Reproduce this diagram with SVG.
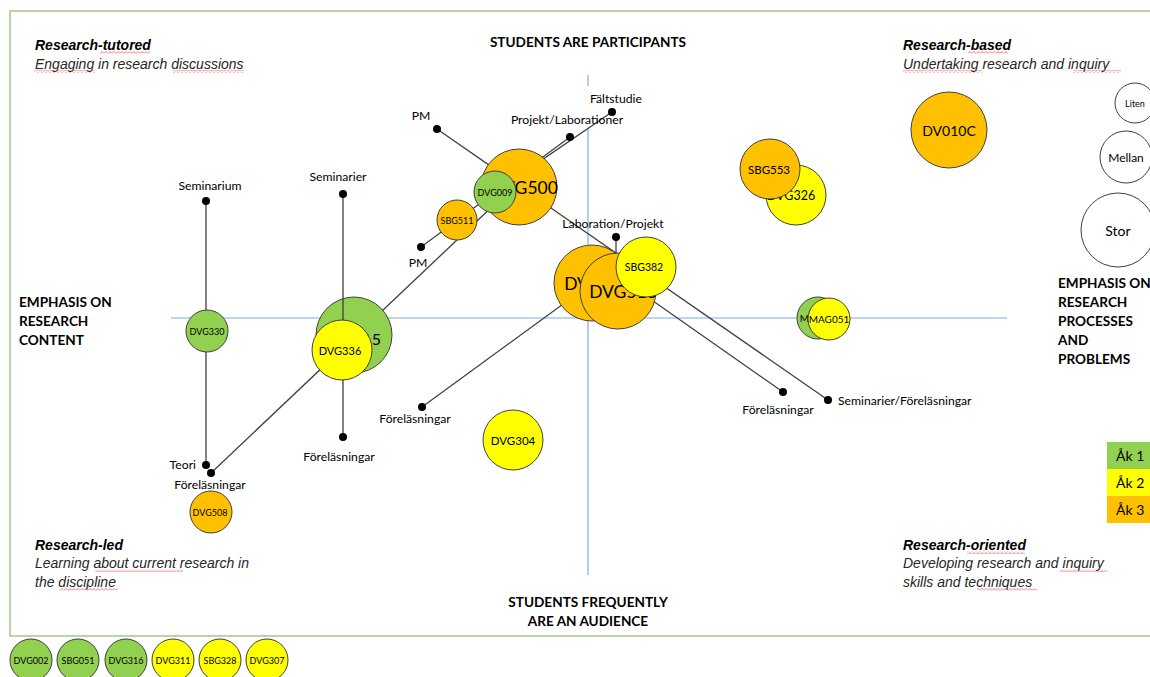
<svg xmlns="http://www.w3.org/2000/svg" width="1150" height="677" viewBox="0 0 1150 677">
<defs>
<style>
text{font-family:Lato,"Liberation Sans",sans-serif;fill:#000}
.ax{stroke:#7FAEDC;stroke-width:1.2;fill:none}
.ln{stroke:#404040;stroke-width:1.3;fill:none}
.dot{fill:#000}
.g{fill:#92D050;stroke:#3F3F3F;stroke-width:1}
.y{fill:#FFFF00;stroke:#3F3F3F;stroke-width:1}
.o{fill:#FFC000;stroke:#3F3F3F;stroke-width:1}
.w{fill:#FFFFFF;stroke:#3F3F3F;stroke-width:1}
.hd{font-weight:bold;font-size:13.6px}
.ct{font-family:"Liberation Sans",Arial,sans-serif;font-style:italic;font-size:14px;fill:#262626}
.cb{font-family:"Liberation Sans",Arial,sans-serif;font-style:italic;font-weight:bold;font-size:14px}
.lb{font-size:12.2px}
.c{text-anchor:middle;dominant-baseline:central}
.sq{fill:url(#squig)}
</style>
<pattern id="squig" x="0" y="0" width="4" height="3" patternUnits="userSpaceOnUse">
<path d="M0,2.5 L2,0.5 L4,2.5" fill="none" stroke="#F05050" stroke-width="0.8"/>
</pattern>
</defs>
<rect x="10" y="11" width="1160" height="625" fill="none" stroke="#70AD47" stroke-width="1"/>
<g id="axes">
<line class="ax" x1="171" y1="318" x2="1007" y2="318"/>
<line class="ax" x1="588" y1="75" x2="588" y2="86"/>
<line class="ax" x1="588" y1="128" x2="588" y2="575"/>
</g>
<g id="headings">
<text class="hd" x="588" y="47" text-anchor="middle">STUDENTS ARE PARTICIPANTS</text>
<text class="hd" x="588" y="607" text-anchor="middle">STUDENTS FREQUENTLY</text>
<text class="hd" x="588" y="626" text-anchor="middle">ARE AN AUDIENCE</text>
<text class="hd" x="19" y="307">EMPHASIS ON</text>
<text class="hd" x="19" y="326">RESEARCH</text>
<text class="hd" x="19" y="345">CONTENT</text>
<text class="hd" x="1058" y="288">EMPHASIS ON</text>
<text class="hd" x="1058" y="307">RESEARCH</text>
<text class="hd" x="1058" y="326">PROCESSES</text>
<text class="hd" x="1058" y="345">AND</text>
<text class="hd" x="1058" y="364">PROBLEMS</text>
</g>
<g id="corners">
<text class="cb" x="35" y="50">Research-tutored</text>
<text class="ct" x="35" y="69">Engaging in research discussions</text>
<text class="cb" x="903" y="50">Research-based</text>
<text class="ct" x="903" y="69">Undertaking research and inquiry</text>
<text class="cb" x="35" y="550">Research-led</text>
<text class="ct" x="35" y="568">Learning about current research in</text>
<text class="ct" x="35" y="587">the discipline</text>
<text class="cb" x="903" y="550">Research-oriented</text>
<text class="ct" x="903" y="568">Developing research and inquiry</text>
<text class="ct" x="903" y="587">skills and techniques</text>
</g>
<g id="spellcheck-marks">
<rect class="sq" x="100" y="51" width="50" height="3"/>
<rect class="sq" x="35" y="70" width="60" height="3"/>
<rect class="sq" x="173" y="70" width="71" height="3"/>
<rect class="sq" x="968" y="51" width="40" height="3"/>
<rect class="sq" x="903" y="70" width="79" height="3"/>
<rect class="sq" x="1073" y="70" width="48" height="3"/>
<rect class="sq" x="95" y="569" width="88" height="3"/>
<rect class="sq" x="59" y="588" width="59" height="3"/>
<rect class="sq" x="967" y="551" width="58" height="3"/>
<rect class="sq" x="1060" y="569" width="47" height="3"/>
<rect class="sq" x="977" y="588" width="60" height="3"/>
</g>
<g id="connectors">
<line class="ln" x1="206" y1="201" x2="206" y2="465"/>
<line class="ln" x1="211" y1="473" x2="496" y2="203"/>
<line class="ln" x1="495" y1="192" x2="612" y2="112"/>
<line class="ln" x1="421" y1="247" x2="570" y2="137"/>
<line class="ln" x1="437" y1="129" x2="828" y2="400"/>
<line class="ln" x1="422" y1="407" x2="592" y2="283"/>
<line class="ln" x1="606" y1="268" x2="783" y2="392"/>
<line class="ln" x1="616" y1="237" x2="616" y2="262"/>
<circle class="dot" cx="206" cy="201" r="4"/>
<circle class="dot" cx="206" cy="465" r="4"/>
<circle class="dot" cx="211" cy="473" r="4"/>
<circle class="dot" cx="437" cy="129" r="4"/>
<circle class="dot" cx="612" cy="112" r="4"/>
<circle class="dot" cx="570" cy="137" r="4"/>
<circle class="dot" cx="421" cy="247" r="4"/>
<circle class="dot" cx="422" cy="407" r="4"/>
<circle class="dot" cx="616" cy="237" r="4"/>
<circle class="dot" cx="783" cy="392" r="4"/>
<circle class="dot" cx="828" cy="400" r="4"/>
</g>
<g id="connector-labels">
<text class="lb" x="210" y="190" text-anchor="middle">Seminarium</text>
<text class="lb" x="196" y="469" text-anchor="end">Teori</text>
<text class="lb" x="210" y="489" text-anchor="middle">Föreläsningar</text>
<text class="lb" x="338" y="181" text-anchor="middle">Seminarier</text>
<text class="lb" x="339" y="461" text-anchor="middle">Föreläsningar</text>
<text class="lb" x="421" y="120" text-anchor="middle">PM</text>
<text class="lb" x="616" y="103" text-anchor="middle">Fältstudie</text>
<text class="lb" x="567" y="124" text-anchor="middle">Projekt/Laborationer</text>
<text class="lb" x="418" y="267" text-anchor="middle">PM</text>
<text class="lb" x="415" y="423" text-anchor="middle">Föreläsningar</text>
<text class="lb" x="613" y="228" text-anchor="middle">Laboration/Projekt</text>
<text class="lb" x="778" y="414" text-anchor="middle">Föreläsningar</text>
<text class="lb" x="838" y="405">Seminarier/Föreläsningar</text>
</g>
<g id="DV010C"><circle class="o" cx="949" cy="130" r="38"/><text class="c" x="949" y="130" font-size="14">DV010C</text></g>
<g id="DVG326"><circle class="y" cx="796" cy="195" r="30"/><text class="c" x="791" y="195" font-size="12.5">DVG326</text></g>
<g id="SBG553"><circle class="o" cx="770" cy="169" r="30"/><text class="c" x="769" y="169" font-size="11.5">SBG553</text></g>
<g id="DVG500"><circle class="o" cx="519" cy="187" r="38"/><text class="c" x="524" y="187" font-size="17.5">DVG500</text></g>
<g id="DVG009"><circle class="g" cx="495" cy="192" r="21"/><text class="c" x="495" y="192" font-size="9">DVG009</text></g>
<g id="SBG511"><circle class="o" cx="457" cy="220" r="20"/><text class="c" x="457" y="220" font-size="9">SBG511</text></g>
<g id="DVG315"><circle class="g" cx="354" cy="335" r="38"/><text class="c" x="350" y="338" font-size="16">DVG315</text></g>
<g id="connectors-dvg336">
<line class="ln" x1="343" y1="194" x2="343" y2="437"/>
<circle class="dot" cx="343" cy="194" r="4"/>
<circle class="dot" cx="343" cy="437" r="4"/>
</g>
<g id="DVG336"><circle class="y" cx="342" cy="350" r="30"/><text class="c" x="340" y="350" font-size="11">DVG336</text></g>
<g id="DVG330"><circle class="g" cx="207" cy="331" r="21"/><text class="c" x="207" y="331" font-size="9">DVG330</text></g>
<g id="DVG508"><circle class="o" cx="211" cy="512" r="21"/><text class="c" x="210" y="512" font-size="9">DVG508</text></g>
<g id="DVG304"><circle class="y" cx="513" cy="440" r="30"/><text class="c" x="513" y="440" font-size="11.5">DVG304</text></g>
<g id="DVG512"><circle class="o" cx="592" cy="283" r="38"/><text class="c" x="598" y="283" font-size="17.5">DVG512</text></g>
<g id="DVG513"><circle class="o" cx="618" cy="291" r="38"/><text class="c" x="623" y="291" font-size="17.5">DVG513</text></g>
<g id="SBG382"><circle class="y" cx="646" cy="267" r="30"/><text class="c" x="644" y="267" font-size="10.5">SBG382</text></g>
<g id="MAG050"><circle class="g" cx="818" cy="318" r="21"/><text class="c" x="820" y="318" font-size="10">MAG050</text></g>
<g id="MAG051"><circle class="y" cx="829" cy="319" r="21"/><text class="c" x="829" y="319" font-size="10">MAG051</text></g>
<g id="size-legend">
<g id="Liten"><circle class="w" cx="1135" cy="103" r="20"/><text class="c" x="1135" y="103" font-size="9">Liten</text></g>
<g id="Mellan"><circle class="w" cx="1126" cy="157" r="26"/><text class="c" x="1126" y="157" font-size="12">Mellan</text></g>
<g id="Stor"><circle class="w" cx="1118" cy="230" r="37"/><text class="c" x="1118" y="230" font-size="14">Stor</text></g>
</g>
<g id="year-legend">
<rect x="1107" y="442" width="43" height="27" fill="#92D050"/>
<rect x="1107" y="469" width="43" height="27" fill="#FFFF00"/>
<rect x="1107" y="496" width="43" height="27" fill="#FFC000"/>
<text x="1116" y="461" font-size="14">Åk 1</text>
<text x="1116" y="488" font-size="14">Åk 2</text>
<text x="1116" y="515" font-size="14">Åk 3</text>
</g>
<g id="unplaced">
<g id="DVG002"><circle class="g" cx="31" cy="660" r="21"/><text class="c" x="31" y="660" font-size="9">DVG002</text></g>
<g id="SBG051"><circle class="g" cx="78" cy="660" r="21"/><text class="c" x="78" y="660" font-size="9">SBG051</text></g>
<g id="DVG316"><circle class="g" cx="126" cy="660" r="21"/><text class="c" x="126" y="660" font-size="9">DVG316</text></g>
<g id="DVG311"><circle class="y" cx="173" cy="660" r="21"/><text class="c" x="173" y="660" font-size="9">DVG311</text></g>
<g id="SBG328"><circle class="y" cx="220" cy="660" r="21"/><text class="c" x="220" y="660" font-size="9">SBG328</text></g>
<g id="DVG307"><circle class="y" cx="267" cy="660" r="21"/><text class="c" x="267" y="660" font-size="9">DVG307</text></g>
</g>
</svg>
